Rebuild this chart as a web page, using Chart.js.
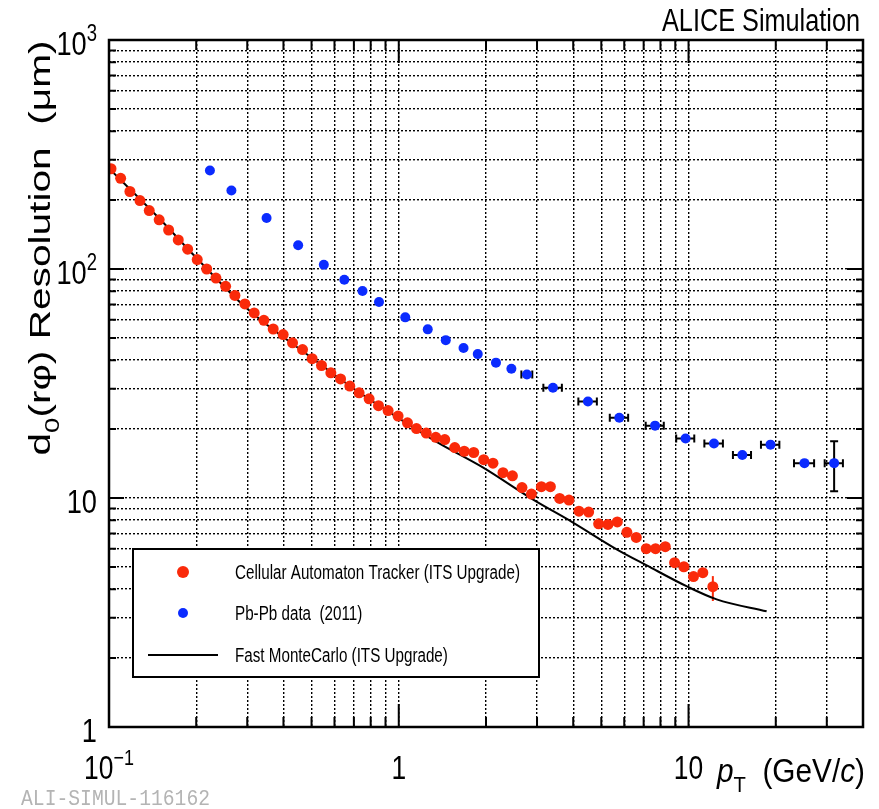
<!DOCTYPE html>
<html>
<head>
<meta charset="utf-8">
<script src="https://cdn.jsdelivr.net/npm/chart.js@4.4.1/dist/chart.umd.min.js"></script>
<style>
html, body { margin: 0; padding: 0; background: #fff; }
#wrap { width: 879px; height: 809px; }
</style>
</head>
<body>
<div id="wrap"><canvas id="c" width="879" height="809"></canvas></div>
<script>
// Cellular Automaton Tracker (ITS Upgrade)
const redX = [0.1016, 0.1097, 0.1181, 0.1279, 0.1377, 0.149, 0.1606, 0.1734, 0.1868, 0.2016,
  0.2173, 0.2339, 0.2526, 0.272, 0.2944, 0.317, 0.3424, 0.3687, 0.399, 0.4299,
  0.4655, 0.5023, 0.5412, 0.5829, 0.6296, 0.6776, 0.7297, 0.7901, 0.8511, 0.9186,
  0.9945, 1.0715, 1.151, 1.244, 1.342, 1.441, 1.56, 1.682, 1.814, 1.964,
  2.114, 2.289, 2.467, 2.662, 2.869, 3.105, 3.336, 3.592, 3.867, 4.186,
  4.521, 4.895, 5.27, 5.677, 6.126, 6.601, 7.146, 7.694, 8.313, 8.95,
  9.634, 10.4, 11.2, 12.13];
const redY = [274, 249, 218, 199, 180, 164, 148, 134, 122, 110,
  100, 91.3, 84.0, 76.7, 70.4, 64.3, 59.7, 54.7, 51.7, 47.6,
  44.5, 40.6, 37.9, 35.2, 33.1, 30.8, 28.8, 27.1, 25.3, 24.1,
  22.8, 21.3, 20.1, 19.2, 18.4, 18.0, 16.6, 16.0, 15.8, 14.7,
  14.2, 12.9, 12.5, 11.1, 10.4, 11.2, 11.2, 9.96, 9.79, 8.76,
  8.68, 7.71, 7.67, 7.86, 7.08, 6.73, 6.01, 6.01, 6.13, 5.22,
  5.01, 4.54, 4.72, 4.10];
// [index, low, high]
const redYErr = [[63, 3.55, 4.56]];

// Pb-Pb data (2011)
const blueX = [0.223, 0.2645, 0.3498, 0.4496, 0.5512, 0.6487, 0.7496, 0.8546, 1.053, 1.259,
  1.453, 1.673, 1.873, 2.165, 2.447, 2.769, 3.405, 4.496, 5.768, 7.664,
  9.766, 12.24, 15.33, 19.18, 25.12, 31.8];
const blueY = [269, 220, 167, 127, 104.4, 89.8, 80.2, 71.8, 61.5, 54.5,
  48.9, 45.2, 42.5, 39.0, 36.7, 34.6, 30.3, 26.4, 22.4, 20.7,
  18.2, 17.3, 15.4, 17.1, 14.2, 14.2];
const blueXErr = [0, 0, 0, 0, 0, 0, 0, 0, 0, 0,
  0, 0, 0, 0, 0, 0.12, 0.25, 0.33, 0.42, 0.55,
  0.7, 0.9, 1.1, 1.4, 2.0, 2.3];
const blueYErr = [[25, 10.7, 17.7]];

// Fast MonteCarlo (ITS Upgrade)
const mcX = [0.1, 0.15, 0.2, 0.3, 0.5, 0.7, 1.0, 1.36, 1.95, 2.9, 3.98, 5.65, 7.17, 9.84, 12.5, 18.6];
const mcY = [275, 165, 112, 67, 41, 30, 22.3, 17.5, 13.6, 9.86, 7.83, 5.97, 5.08, 4.12, 3.61, 3.2];

const xMajor = [0.1, 1, 10];
const yMajor = [1, 10, 100, 1000];
const xLabels = [[{t: '10'}, {t: '\u22121', sup: 1}], [{t: '1'}], [{t: '10'}]];
const yLabels = [[{t: '1'}], [{t: '10'}], [{t: '10'}, {t: '2', sup: 1}], [{t: '10'}, {t: '3', sup: 1}]];
const X_MIN = 0.1, X_MAX = 40, Y_MIN = 1, Y_MAX = 1000;

const RED = '#fa2a0a';
const BLUE = '#0b2bff';
const SANS = "'Liberation Sans', Arial, sans-serif";

// grid at 1..9 x each decade
function logGrid(majors, max) {
  const out = [];
  majors.forEach(m => { for (let k = 1; k < 10; k++) { const v = +(m * k).toPrecision(3); if (v < max) out.push(v); } });
  return out;
}
const xGrid = logGrid(xMajor, X_MAX);
const yGrid = logGrid(yMajor.slice(0, 3), Y_MAX);

function rich(ctx, runs, x, y, size, o) {
  o = o || {};
  ctx.save();
  ctx.translate(x, y);
  if (o.rot) ctx.rotate(o.rot);
  const parts = runs.map(r => {
    const s = (r.sub || r.sup) ? size * 0.68 : size;
    const f = (r.it ? 'italic ' : '') + s + 'px ' + (o.family || SANS);
    ctx.font = f;
    return { t: r.t, f: f, w: ctx.measureText(r.t).width, dy: r.sub ? size * 0.3 : r.sup ? -size * 0.42 : 0 };
  });
  const w = parts.reduce((a, p) => a + p.w, 0);
  const sx = o.width ? o.width / w : (o.sx || 1);
  ctx.scale(sx, o.sy || 1);
  let cx = o.align === 'right' ? -w : o.align === 'center' ? -w / 2 : 0;
  ctx.fillStyle = o.color || '#000';
  ctx.textBaseline = 'alphabetic';
  ctx.textAlign = 'left';
  parts.forEach(p => { ctx.font = p.f; ctx.fillText(p.t, cx, p.dy); cx += p.w; });
  ctx.restore();
}

function dot(ctx, x, y, r, c) {
  ctx.beginPath(); ctx.arc(x, y, r, 0, Math.PI * 2); ctx.fillStyle = c; ctx.fill();
}

const rootStyle = {
  id: 'rootStyle',
  beforeDatasetsDraw(chart) {
    const ctx = chart.ctx, xs = chart.scales.x, ys = chart.scales.y;
    ctx.save();
    // blue horizontal bars
    ctx.strokeStyle = '#000'; ctx.lineWidth = 2;
    blueX.forEach((x, i) => {
      if (!blueXErr[i]) return;
      const py = ys.getPixelForValue(blueY[i]);
      const a = xs.getPixelForValue(x - blueXErr[i]), b = xs.getPixelForValue(x + blueXErr[i]);
      ctx.beginPath();
      ctx.moveTo(a, py); ctx.lineTo(b, py);
      ctx.moveTo(a, py - 4); ctx.lineTo(a, py + 4);
      ctx.moveTo(b, py - 4); ctx.lineTo(b, py + 4);
      ctx.stroke();
    });
    blueYErr.forEach(([i, lo, hi]) => {
      const px = xs.getPixelForValue(blueX[i]);
      const a = ys.getPixelForValue(lo), b = ys.getPixelForValue(hi);
      ctx.beginPath();
      ctx.moveTo(px, a); ctx.lineTo(px, b);
      ctx.moveTo(px - 4, a); ctx.lineTo(px + 4, a);
      ctx.moveTo(px - 4, b); ctx.lineTo(px + 4, b);
      ctx.stroke();
    });
    ctx.strokeStyle = RED;
    redYErr.forEach(([i, lo, hi]) => {
      const px = xs.getPixelForValue(redX[i]);
      ctx.beginPath();
      ctx.moveTo(px, ys.getPixelForValue(lo)); ctx.lineTo(px, ys.getPixelForValue(hi));
      ctx.stroke();
    });
    ctx.restore();
  },
  afterDatasetsDraw(chart) {
    const ctx = chart.ctx, a = chart.chartArea, xs = chart.scales.x, ys = chart.scales.y;
    ctx.save();
    // legend box
    ctx.fillStyle = '#fff';
    ctx.fillRect(133, 549, 406, 128);
    ctx.strokeStyle = '#000'; ctx.lineWidth = 2;
    ctx.strokeRect(133, 549, 406, 128);
    dot(ctx, 183, 572, 6, RED);
    dot(ctx, 183, 613, 5, BLUE);
    ctx.beginPath(); ctx.moveTo(148, 655); ctx.lineTo(218, 655); ctx.stroke();
    const names = chart.data.datasets.map(d => d.label);
    rich(ctx, [{t: names[0]}], 235, 579, 20, {sx: 0.76});
    rich(ctx, [{t: names[1]}], 235, 620, 20, {sx: 0.76});
    rich(ctx, [{t: names[2]}], 235, 662, 20, {sx: 0.76});

    // ticks, ROOT style on all four sides
    ctx.strokeStyle = '#000'; ctx.lineWidth = 2;
    ctx.beginPath();
    xGrid.forEach(v => {
      const px = xs.getPixelForValue(v);
      const L = xMajor.includes(v) ? 23 : 10;
      ctx.moveTo(px, a.bottom); ctx.lineTo(px, a.bottom - L);
      ctx.moveTo(px, a.top); ctx.lineTo(px, a.top + L);
    });
    yGrid.forEach(v => {
      const py = ys.getPixelForValue(v);
      const major = yMajor.includes(v);
      ctx.moveTo(a.left, py); ctx.lineTo(a.left + (major ? 15 : 7), py);
      ctx.moveTo(a.right, py); ctx.lineTo(a.right - (major ? 16 : 7), py);
    });
    ctx.stroke();
    ctx.lineWidth = 2.5;
    ctx.strokeRect(a.left, a.top, a.right - a.left, a.bottom - a.top);
    ctx.restore();
  },
  afterDraw(chart) {
    const ctx = chart.ctx, xs = chart.scales.x, ys = chart.scales.y;
    xMajor.forEach((v, i) => rich(ctx, xLabels[i], xs.getPixelForValue(v), 779, 33, {align: 'center', sx: 0.8}));
    yMajor.forEach((v, i) => rich(ctx, yLabels[i], 97, ys.getPixelForValue(v) + 15, 34, {align: 'right', sx: 0.8}));
    rich(ctx, [{t: 'd'}, {t: '0', sub: 1}, {t: '(r\u03c6) Resolution  (\u03bcm)'}], 50, 248, 36,
      {rot: -Math.PI / 2, align: 'center', width: 415, sy: 0.82});
    rich(ctx, [{t: 'p', it: 1}, {t: 'T', sub: 1}, {t: '  (GeV/'}, {t: 'c', it: 1}, {t: ')'}], 865, 782, 33,
      {align: 'right', width: 148});
    rich(ctx, [{t: 'ALICE Simulation'}], 860, 31, 31, {align: 'right', width: 198});
    rich(ctx, [{t: 'ALI-SIMUL-116162'}], 21, 805, 22, {width: 189, color: '#b4b4b4', family: "'Liberation Mono', monospace"});
  }
};

function axis(min, max, grid) {
  return {
    type: 'logarithmic', min: min, max: max,
    afterBuildTicks: s => { s.ticks = grid.map(v => ({value: v})); },
    ticks: { display: false },
    grid: { color: '#000', lineWidth: 1.4, drawTicks: false },
    border: { display: false, dash: [2, 2] }
  };
}
const xAxis = axis(X_MIN, X_MAX, xGrid);
xAxis.afterFit = s => { s.height = 0; };
const yAxis = axis(Y_MIN, Y_MAX, yGrid);
yAxis.afterFit = s => { s.width = 0; };

new Chart(document.getElementById('c'), {
  type: 'scatter',
  data: {
    datasets: [
      { label: 'Cellular Automaton Tracker (ITS Upgrade)', data: redX.map((x, i) => ({x: x, y: redY[i]})),
        backgroundColor: RED, borderWidth: 0, pointRadius: 5.5 },
      { label: 'Pb-Pb data  (2011)', data: blueX.map((x, i) => ({x: x, y: blueY[i]})),
        backgroundColor: BLUE, borderWidth: 0, pointRadius: 5 },
      { label: 'Fast MonteCarlo (ITS Upgrade)', type: 'line', data: mcX.map((x, i) => ({x: x, y: mcY[i]})),
        borderColor: '#000', borderWidth: 2, pointRadius: 0, fill: false, showLine: true,
        cubicInterpolationMode: 'monotone' }
    ]
  },
  options: {
    responsive: false, animation: false, devicePixelRatio: 1,
    layout: { padding: { left: 109, top: 40, right: 16, bottom: 82 } },
    plugins: { legend: { display: false }, tooltip: { enabled: false } },
    scales: { x: xAxis, y: yAxis }
  },
  plugins: [rootStyle]
});
</script>
</body>
</html>
